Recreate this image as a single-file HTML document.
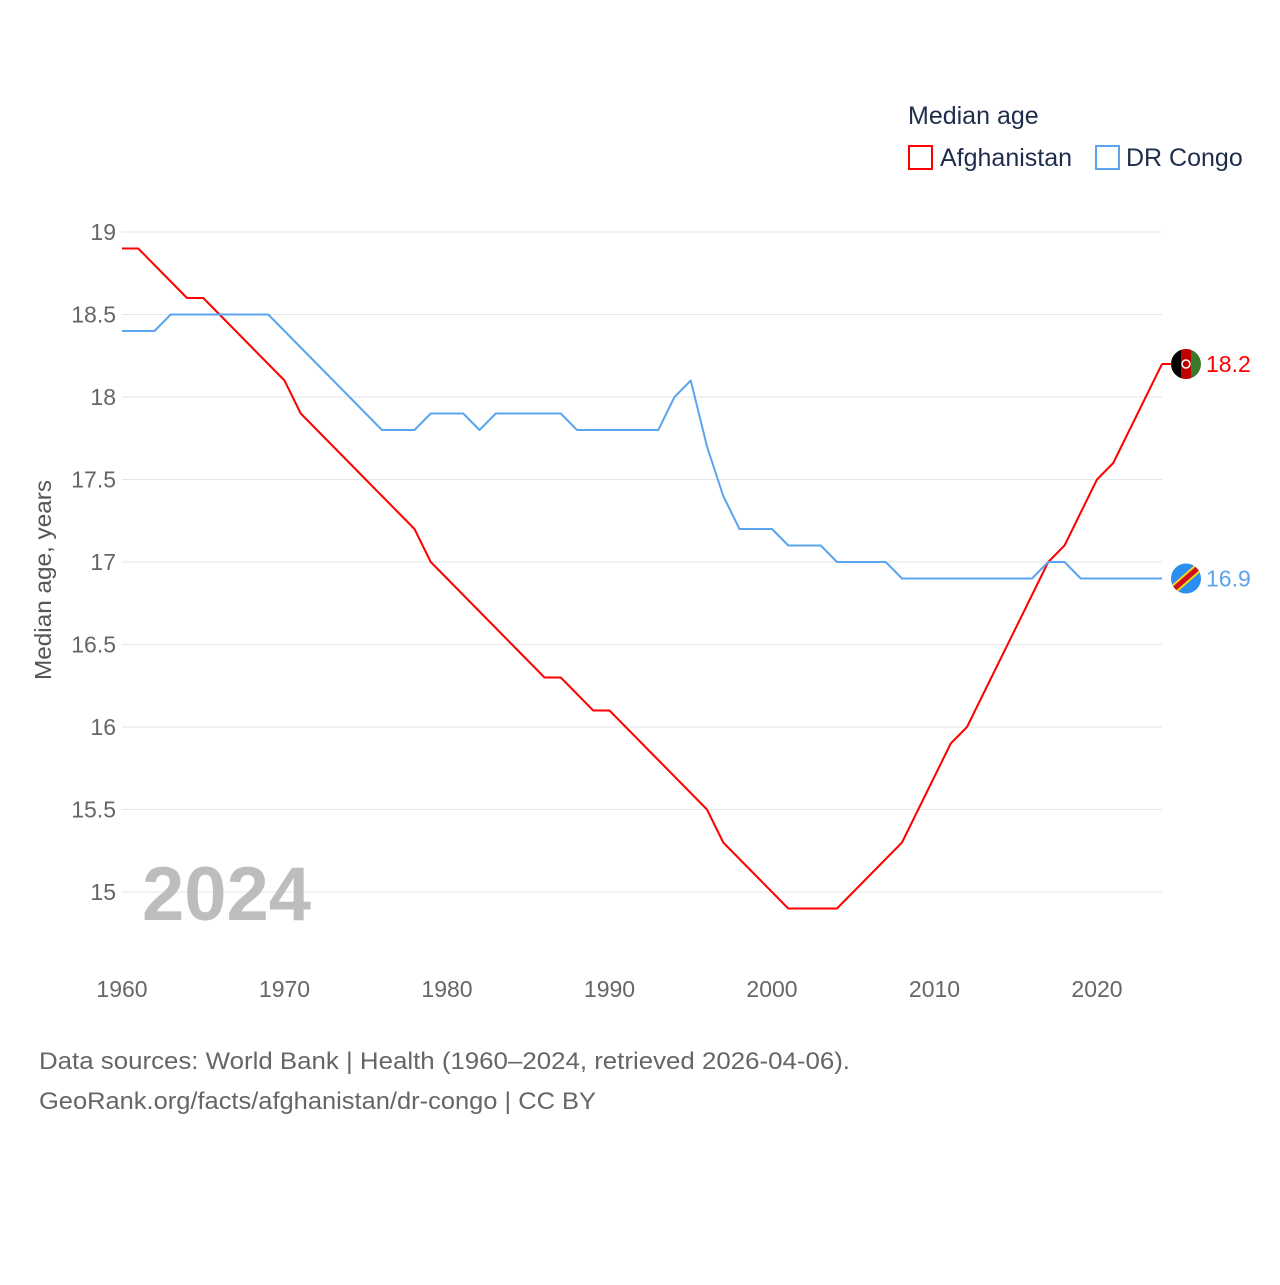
<!DOCTYPE html>
<html><head><meta charset="utf-8"><style>
body{margin:0;background:#fff;font-family:"Liberation Sans",sans-serif;}
svg text{font-family:"Liberation Sans",sans-serif;}
</style></head><body>
<svg id="chart" width="1280" height="1280" xmlns="http://www.w3.org/2000/svg">
<text x="908" y="124" font-size="25" fill="#1f2d4d">Median age</text>
<g><rect x="909" y="146" width="23" height="23" fill="none" stroke="#f00" stroke-width="2"/><text x="940" y="166" font-size="25" fill="#1f2d4d">Afghanistan</text></g>
<g><rect x="1096" y="146" width="23" height="23" fill="none" stroke="#5aa5ee" stroke-width="2"/><text x="1126" y="166" font-size="25" fill="#1f2d4d">DR Congo</text></g>
<g id="grid"></g>
<text transform="translate(51,580) rotate(-90)" text-anchor="middle" font-size="23" fill="#555" textLength="200" lengthAdjust="spacingAndGlyphs">Median age, years</text>
<text x="142" y="920" font-size="76" font-weight="bold" fill="#bdbdbd">2024</text>
<g id="lines"></g>
<text x="39" y="1069" font-size="24" fill="#666" textLength="811" lengthAdjust="spacingAndGlyphs">Data sources: World Bank | Health (1960–2024, retrieved 2026-04-06).</text>
<text x="39" y="1109" font-size="24" fill="#666" textLength="557" lengthAdjust="spacingAndGlyphs">GeoRank.org/facts/afghanistan/dr-congo | CC BY</text>
</svg>
<script>
const years=[];for(let y=1960;y<=2024;y++)years.push(y);
const afghanistan=[18.9,18.9,18.8,18.7,18.6,18.6,18.5,18.4,18.3,18.2,18.1,17.9,17.8,17.7,17.6,17.5,17.4,17.3,17.2,17.0,16.9,16.8,16.7,16.6,16.5,16.4,16.3,16.3,16.2,16.1,16.1,16.0,15.9,15.8,15.7,15.6,15.5,15.3,15.2,15.1,15.0,14.9,14.9,14.9,14.9,15.0,15.1,15.2,15.3,15.5,15.7,15.9,16.0,16.2,16.4,16.6,16.8,17.0,17.1,17.3,17.5,17.6,17.8,18.0,18.2];
const drCongo=[18.4,18.4,18.4,18.5,18.5,18.5,18.5,18.5,18.5,18.5,18.4,18.3,18.2,18.1,18.0,17.9,17.8,17.8,17.8,17.9,17.9,17.9,17.8,17.9,17.9,17.9,17.9,17.9,17.8,17.8,17.8,17.8,17.8,17.8,18.0,18.1,17.7,17.4,17.2,17.2,17.2,17.1,17.1,17.1,17.0,17.0,17.0,17.0,16.9,16.9,16.9,16.9,16.9,16.9,16.9,16.9,16.9,17.0,17.0,16.9,16.9,16.9,16.9,16.9,16.9];
const yTicks=[15,15.5,16,16.5,17,17.5,18,18.5,19];
const xTicks=[1960,1970,1980,1990,2000,2010,2020];
const X=y=>122+(y-1960)*16.25;
const Y=v=>232+(19-v)*165;
const NS="http://www.w3.org/2000/svg";
const g=document.getElementById('grid'),L=document.getElementById('lines');
function mk(tag,attrs,parent,txt){const e=document.createElementNS(NS,tag);for(const k in attrs)e.setAttribute(k,attrs[k]);if(txt!=null)e.textContent=txt;parent.appendChild(e);return e;}
yTicks.forEach(v=>{
 const l=mk('line',{x1:122,x2:1162,y1:Y(v),y2:Y(v),stroke:'#e6e6e6','stroke-width':1},g);
 
 
 const t=mk('text',{x:116,y:Y(v)+8,'text-anchor':'end','font-size':23,fill:'#666'},g,String(v));
 
 
});
xTicks.forEach(v=>{
 const t=mk('text',{x:X(v),y:997,'text-anchor':'middle','font-size':23,fill:'#666'},g,String(v));
 
 
});
function series(vals,color,name){
 const d=vals.map((v,i)=>(i?'L':'M')+X(years[i])+','+Y(v)).join(' ');
 const p=mk('path',{d:d,fill:'none',stroke:color,'stroke-width':2,'stroke-linejoin':'round'},L);
 
 
 return Y(vals[vals.length-1]);
}
const ay=series(afghanistan,'#ff0000','afghanistan');
const cy=series(drCongo,'#5aa5ee','dr-congo');
const fa=mk('g',{},L);


mk('line',{x1:1162,x2:1172,y1:ay,y2:ay,stroke:'#f00','stroke-width':2},fa);
mk('defs',{},fa).innerHTML='<clipPath id="ca"><circle cx="1186" cy="'+ay+'" r="15"/></clipPath><clipPath id="cc"><circle cx="1186" cy="'+cy+'" r="15"/></clipPath>';
mk('rect',{x:1171,y:ay-15,width:10,height:30,fill:'#000','clip-path':'url(#ca)'},fa);
mk('rect',{x:1181,y:ay-15,width:10,height:30,fill:'#be0000','clip-path':'url(#ca)'},fa);
mk('rect',{x:1191,y:ay-15,width:10,height:30,fill:'#3a7a2a','clip-path':'url(#ca)'},fa);
mk('circle',{cx:1186,cy:ay,r:4,fill:'none',stroke:'#fff','stroke-width':1.5},fa);
const ta=mk('text',{x:1206,y:ay+8,'font-size':23,fill:'#f00'},L,afghanistan[afghanistan.length-1].toFixed(1));


const fc=mk('g',{},L);


mk('circle',{cx:1186,cy:cy,r:15,fill:'#2b8ef0'},fc);
mk('line',{x1:1170,y1:cy+14,x2:1202,y2:cy-14,stroke:'#f7d618','stroke-width':9,'clip-path':'url(#cc)'},fc);
mk('line',{x1:1170,y1:cy+14,x2:1202,y2:cy-14,stroke:'#ce1021','stroke-width':5,'clip-path':'url(#cc)'},fc);
const tc=mk('text',{x:1206,y:cy+8,'font-size':23,fill:'#5aa5ee'},L,drCongo[drCongo.length-1].toFixed(1));


</script>
</body></html>
